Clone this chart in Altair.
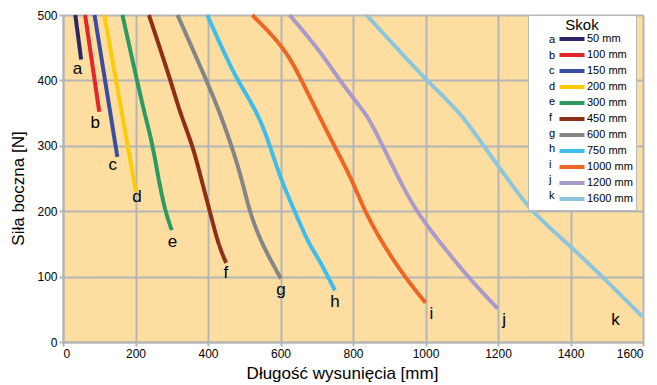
import altair as alt
import pandas as pd

letters = ["a", "b", "c", "d", "e", "f", "g", "h", "i", "j", "k"]
strokes = ["50 mm", "100 mm", "150 mm", "200 mm", "300 mm", "450 mm",
           "600 mm", "750 mm", "1000 mm", "1200 mm", "1600 mm"]
colors = ["#2B2766", "#E3262A", "#3B4DA0", "#FFCB08", "#2E9A63", "#8E2F18",
          "#858585", "#3EBDEB", "#EE6626", "#A99BC9", "#8CC5DC"]

# curve points (x = Długość wysunięcia [mm], y = Siła boczna [N])
a_x = [34, 50]
a_y = [500, 432]
b_x = [61, 100]
b_y = [500, 352]
c_x = [87, 150]
c_y = [500, 283]
d_x = [114, 201]
d_y = [500, 230]
e_x = [164, 204, 224, 248, 263, 282, 300]
e_y = [500, 400, 352, 300, 250, 200, 171]
f_x = [237, 297, 323, 358, 381, 405, 428, 450]
f_y = [500, 400, 350, 300, 250, 200, 150, 121]
g_x = [316, 396, 433, 465, 493, 514, 548, 601]
g_y = [500, 400, 350, 300, 250, 200, 150, 97]
h_x = [398, 438, 481, 538, 571, 600, 639, 678, 708, 750]
h_y = [500, 450, 400, 350, 300, 250, 200, 150, 125, 79]
i_x = [522, 612, 658, 703, 748, 796, 832, 882, 942, 1000]
i_y = [500, 450, 400, 350, 300, 250, 200, 150, 100, 60]
j_x = [625, 708, 763, 833, 846, 882, 926, 974, 1043, 1116, 1199]
j_y = [500, 446, 400, 350, 339, 300, 250, 200, 150, 100, 51]
k_x = [837, 920, 1003, 1098, 1160, 1226, 1291, 1393, 1488, 1598]
k_y = [500, 450, 400, 350, 300, 250, 200, 150, 100, 39]

# curve-end letter labels
lab_x = [40, 89, 137, 204, 302, 449, 601, 750, 1016, 1217, 1524]
lab_y = [417, 335, 270, 221, 153, 106, 80, 61, 43, 33, 33]

xs = [a_x, b_x, c_x, d_x, e_x, f_x, g_x, h_x, i_x, j_x, k_x]
ys = [a_y, b_y, c_y, d_y, e_y, f_y, g_y, h_y, i_y, j_y, k_y]

rows = []
for L, S, X, Y in zip(letters, strokes, xs, ys):
    for xv, yv in zip(X, Y):
        rows.append({"letter": L, "stroke": S, "x": xv, "y": yv})
lines_df = pd.DataFrame(rows)
labels_df = pd.DataFrame({"letter": letters, "x": lab_x, "y": lab_y})

FONT = "Liberation Sans"
NB = "\u00a0"
label_expr = ("(length(datum.label) == 5 ? '" + NB + NB + "' : "
              "length(datum.label) == 6 ? '" + NB + "' : '') + datum.label + '    '")

x_enc = alt.X("x:Q", scale=alt.Scale(domain=[0, 1600], nice=False),
              axis=alt.Axis(values=list(range(0, 1601, 200)), format="d",
                            title="Długość wysunięcia [mm]",
                            titleX=279, titleY=36, titleAnchor="middle",
                            titleBaseline="alphabetic"))
y_enc = alt.Y("y:Q", scale=alt.Scale(domain=[0, 500], nice=False),
              axis=alt.Axis(values=list(range(0, 501, 50)), format="d",
                            title="Siła boczna [N]",
                            titleX=-45, titleY=173, titleAngle=-90,
                            titleAlign="center", titleBaseline="middle"))

lines = alt.Chart(lines_df).mark_line(strokeWidth=4, interpolate="basis").encode(
    x=x_enc,
    y=y_enc,
    color=alt.Color("stroke:N", scale=alt.Scale(domain=strokes, range=colors),
                    legend=alt.Legend(
                        title="Skok", orient="none", legendX=465, legendY=0,
                        fillColor="white", strokeColor="#B8B8B8", padding=3,
                        symbolType="M-3.125,0H3.125", symbolSize=64,
                        symbolStrokeWidth=4, symbolOffset=35,
                        labelAlign="left", labelOffset=9,
                        labelFontSize=11, labelFont=FONT,
                        labelExpr=label_expr,
                        titleFont=FONT, titleFontSize=15, titleFontWeight="normal",
                        titleAnchor="middle", titlePadding=0, rowPadding=0,
                        titleColor="black", labelColor="black")),
    strokeDash=alt.StrokeDash("letter:N",
                              scale=alt.Scale(domain=letters, range=[[1, 0]] * 11),
                              legend=alt.Legend(
                                  title=None, orient="none", legendX=474, legendY=19,
                                  symbolOpacity=0, symbolSize=100,
                                  symbolType="circle", padding=0,
                                  labelFontSize=11, labelFont=FONT, labelColor="black",
                                  labelOffset=0, rowPadding=4.6)),
    detail="letter:N",
)

texts = alt.Chart(labels_df).mark_text(fontSize=17, font=FONT, color="black",
                                       baseline="middle", align="center").encode(
    x="x:Q", y="y:Q", text="letter:N")

chart = alt.layer(lines, texts).properties(
    width=580, height=327,
    autosize=alt.AutoSizeParams(type="none"),
    padding={"left": 55, "top": 7, "right": 6, "bottom": 42},
).configure_view(fill="#FDDEA0", stroke=None).configure_axis(
    grid=True, gridColor="#B5B5B5", gridWidth=2,
    domainColor="#B5B5B5", domainWidth=2,
    tickColor="#B5B5B5", tickSize=4, tickWidth=2,
    labelFont=FONT, labelFontSize=12, labelColor="black",
    titleFont=FONT, titleFontSize=17, titleFontWeight="normal", titleColor="black",
)

chart.save("out.html", embed_options={"renderer": "svg", "actions": False})
